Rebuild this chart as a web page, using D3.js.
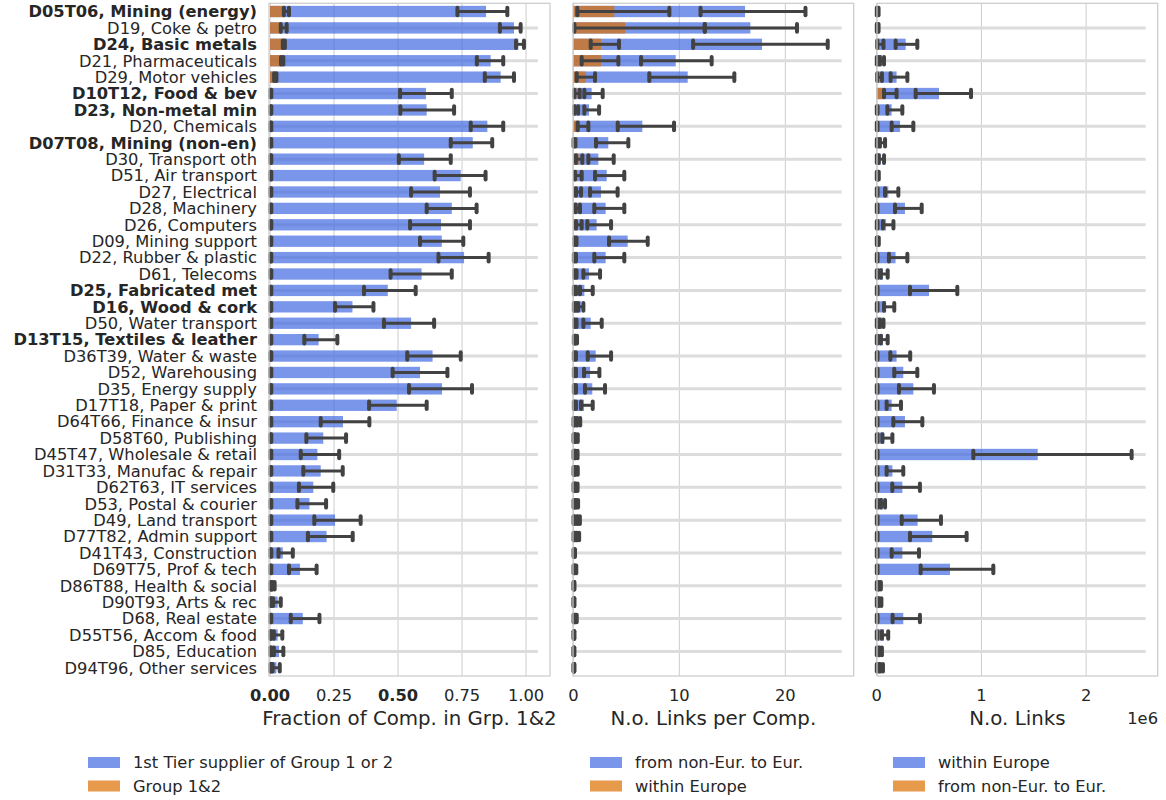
<!DOCTYPE html>
<html><head><meta charset="utf-8">
<script src="https://cdn.jsdelivr.net/npm/d3@7"></script>
<style>body{margin:0;background:#fff}svg{font-family:"DejaVu Sans",sans-serif}</style>
</head><body>
<svg id="c" width="1166" height="800"></svg>
<script>
const labels = ["D05T06, Mining (energy)","D19, Coke & petro","D24, Basic metals","D21, Pharmaceuticals","D29, Motor vehicles","D10T12, Food & bev","D23, Non-metal min","D20, Chemicals","D07T08, Mining (non-en)","D30, Transport oth","D51, Air transport","D27, Electrical","D28, Machinery","D26, Computers","D09, Mining support","D22, Rubber & plastic","D61, Telecoms","D25, Fabricated met","D16, Wood & cork","D50, Water transport","D13T15, Textiles & leather","D36T39, Water & waste","D52, Warehousing","D35, Energy supply","D17T18, Paper & print","D64T66, Finance & insur","D58T60, Publishing","D45T47, Wholesale & retail","D31T33, Manufac & repair","D62T63, IT services","D53, Postal & courier","D49, Land transport","D77T82, Admin support","D41T43, Construction","D69T75, Prof & tech","D86T88, Health & social","D90T93, Arts & rec","D68, Real estate","D55T56, Accom & food","D85, Education","D94T96, Other services"];
const boldLabels = ["D05T06, Mining (energy)","D24, Basic metals","D10T12, Food & bev","D23, Non-metal min","D07T08, Mining (non-en)","D25, Fabricated met","D16, Wood & cork","D13T15, Textiles & leather"];

// Panel 1: fraction of companies
const fracTier = [0.844,0.953,0.970,0.862,0.901,0.609,0.612,0.849,0.792,0.602,0.745,0.664,0.710,0.668,0.671,0.758,0.592,0.460,0.322,0.551,0.190,0.635,0.586,0.672,0.495,0.285,0.208,0.185,0.198,0.169,0.154,0.254,0.221,0.050,0.117,0.014,0.030,0.128,0.030,0.035,0.025];
const fracTierLo = [0.732,0.898,0.961,0.808,0.839,0.508,0.509,0.784,0.706,0.503,0.643,0.551,0.612,0.547,0.586,0.658,0.471,0.367,0.254,0.445,0.134,0.536,0.479,0.543,0.387,0.198,0.142,0.120,0.130,0.113,0.107,0.173,0.148,0.033,0.074,0.008,0.012,0.081,0.015,0.015,0.010];
const fracTierHi = [0.927,0.979,0.992,0.911,0.953,0.710,0.719,0.911,0.868,0.706,0.842,0.781,0.807,0.781,0.755,0.854,0.710,0.569,0.404,0.641,0.263,0.745,0.693,0.789,0.612,0.388,0.297,0.270,0.284,0.247,0.219,0.354,0.323,0.089,0.182,0.018,0.042,0.193,0.048,0.052,0.038];
const fracGrp = [0.060,0.045,0.050,0.045,0.018,0.003,0.003,0.003,0.003,0.003,0.003,0.003,0.003,0.003,0.003,0.003,0.003,0.003,0.003,0.003,0.003,0.003,0.003,0.003,0.003,0.003,0.003,0.003,0.003,0.003,0.003,0.003,0.003,0.003,0.003,0.003,0.003,0.003,0.003,0.003,0.003];
const fracGrpLo = [0.054,0.042,0.050,0.043,0.016,0.001,0.001,0.001,0.001,0.001,0.001,0.001,0.001,0.001,0.001,0.001,0.001,0.001,0.001,0.001,0.001,0.001,0.001,0.001,0.001,0.001,0.001,0.001,0.001,0.001,0.001,0.001,0.001,0.001,0.001,0.001,0.001,0.001,0.001,0.001,0.001];
const fracGrpHi = [0.074,0.065,0.058,0.052,0.025,0.005,0.005,0.005,0.005,0.005,0.005,0.005,0.005,0.005,0.005,0.005,0.005,0.005,0.005,0.005,0.005,0.005,0.005,0.005,0.005,0.005,0.005,0.005,0.005,0.005,0.005,0.005,0.005,0.005,0.005,0.005,0.005,0.005,0.005,0.005,0.005];

// Panel 2: links per company
const lpcNonEur = [16.2,16.7,17.8,9.66,10.79,1.73,1.48,6.51,3.3,2.36,3.15,2.61,3.05,2.20,5.13,3.05,1.48,1.04,0.75,1.64,0.3,2.11,1.58,1.79,1.01,0.5,0.3,0.28,0.3,0.3,0.35,0.5,0.45,0.12,0.22,0.06,0.06,0.25,0.06,0.05,0.06];
const lpcNonEurLo = [12.0,12.4,11.3,6.39,7.17,1.04,1.04,4.19,2.14,1.42,2.05,1.58,1.98,1.32,3.37,1.98,0.95,0.63,0.45,0.95,0.2,1.36,1.01,1.1,0.73,0.35,0.2,0.2,0.2,0.22,0.25,0.38,0.32,0.08,0.15,0.04,0.04,0.18,0.04,0.03,0.04];
const lpcNonEurHi = [21.9,21.1,24.0,13.05,15.19,2.77,2.43,9.5,5.19,3.81,4.81,4.18,4.81,3.56,7.02,4.81,2.52,1.83,0.95,2.68,0.35,3.56,2.46,2.99,1.83,0.65,0.42,0.4,0.42,0.4,0.45,0.62,0.55,0.16,0.28,0.08,0.08,0.32,0.08,0.07,0.08];
const lpcEur = [3.87,4.88,2.61,2.61,1.17,0.3,0.25,0.63,0.1,0.5,0.35,0.4,0.35,0.45,0.2,0.15,0.2,0.15,0.15,0.2,0.1,0.15,0.15,0.15,0.15,0.05,0.05,0.05,0.05,0.05,0.05,0.05,0.05,0.05,0.05,0.05,0.05,0.05,0.05,0.05,0.05];
const lpcEurLo = [0.38,0.1,1.64,0.79,0.32,0.1,0.1,0.41,0.02,0.25,0.16,0.25,0.22,0.25,0.1,0.05,0.1,0.05,0.05,0.1,0.05,0.05,0.05,0.05,0.05,0.02,0.02,0.02,0.02,0.02,0.02,0.02,0.02,0.02,0.02,0.02,0.02,0.02,0.02,0.02,0.02];
const lpcEurHi = [9.06,12.4,4.31,4.25,2.05,0.6,0.45,1.42,0.2,0.85,0.79,0.73,0.63,0.79,0.3,0.25,0.3,0.25,0.25,0.3,0.2,0.25,0.25,0.25,0.25,0.1,0.1,0.1,0.1,0.1,0.1,0.1,0.1,0.1,0.1,0.1,0.1,0.1,0.1,0.1,0.1];

// Panel 3: number of links
const linksEur = [0.012e6,0.012e6,0.277e6,0.05e6,0.19e6,0.595e6,0.143e6,0.223e6,0.05e6,0.04e6,0.015e6,0.111e6,0.27e6,0.09e6,0.015e6,0.18e6,0.06e6,0.5e6,0.09e6,0.05e6,0.06e6,0.19e6,0.254e6,0.35e6,0.143e6,0.27e6,0.073e6,1.538e6,0.15e6,0.245e6,0.06e6,0.391e6,0.531e6,0.245e6,0.7e6,0.03e6,0.035e6,0.254e6,0.07e6,0.04e6,0.05e6];
const linksEurLo = [0.006e6,0.006e6,0.181e6,0.03e6,0.133e6,0.372e6,0.102e6,0.143e6,0.03e6,0.02e6,0.008e6,0.08e6,0.175e6,0.06e6,0.008e6,0.117e6,0.04e6,0.318e6,0.07e6,0.03e6,0.04e6,0.13e6,0.168e6,0.213e6,0.095e6,0.159e6,0.054e6,0.923e6,0.095e6,0.149e6,0.04e6,0.239e6,0.318e6,0.143e6,0.42e6,0.02e6,0.02e6,0.152e6,0.05e6,0.025e6,0.03e6];
const linksEurHi = [0.018e6,0.018e6,0.388e6,0.07e6,0.293e6,0.901e6,0.245e6,0.35e6,0.08e6,0.07e6,0.02e6,0.207e6,0.43e6,0.16e6,0.02e6,0.293e6,0.105e6,0.77e6,0.168e6,0.065e6,0.105e6,0.32e6,0.388e6,0.547e6,0.232e6,0.436e6,0.15e6,2.435e6,0.254e6,0.413e6,0.08e6,0.614e6,0.859e6,0.404e6,1.114e6,0.04e6,0.045e6,0.413e6,0.11e6,0.05e6,0.06e6];
const linksNonEur = [0.002e6,0.002e6,0.03e6,0.004e6,0.02e6,0.06e6,0.004e6,0.004e6,0.004e6,0.004e6,0.004e6,0.004e6,0.004e6,0.004e6,0.002e6,0.004e6,0.004e6,0.004e6,0.004e6,0.004e6,0.004e6,0.004e6,0.004e6,0.004e6,0.004e6,0.004e6,0.004e6,0.004e6,0.004e6,0.004e6,0.004e6,0.004e6,0.004e6,0.004e6,0.004e6,0.004e6,0.004e6,0.004e6,0.004e6,0.004e6,0.004e6];
const linksNonEurLo = [0.001e6,0.001e6,0.005e6,0.001e6,0.005e6,0.07e6,0.001e6,0.001e6,0.001e6,0.001e6,0.001e6,0.001e6,0.001e6,0.001e6,0.001e6,0.001e6,0.001e6,0.001e6,0.001e6,0.001e6,0.001e6,0.001e6,0.001e6,0.001e6,0.001e6,0.001e6,0.001e6,0.001e6,0.001e6,0.001e6,0.001e6,0.001e6,0.001e6,0.001e6,0.001e6,0.001e6,0.001e6,0.001e6,0.001e6,0.001e6,0.001e6];
const linksNonEurHi = [0.004e6,0.004e6,0.065e6,0.008e6,0.05e6,0.19e6,0.008e6,0.008e6,0.008e6,0.008e6,0.008e6,0.008e6,0.008e6,0.008e6,0.004e6,0.008e6,0.008e6,0.008e6,0.008e6,0.008e6,0.008e6,0.008e6,0.008e6,0.008e6,0.008e6,0.008e6,0.008e6,0.008e6,0.008e6,0.008e6,0.008e6,0.008e6,0.008e6,0.008e6,0.008e6,0.008e6,0.008e6,0.008e6,0.008e6,0.008e6,0.008e6];

const ticksFrac = [0, 0.25, 0.5, 0.75, 1.0];
const boldTicksFrac = [0, 0.5];
const ticksLpc = [0, 10, 20];
const ticksLinks = [0, 1e6, 2e6];

const BLUE = "#4169e1", ORANGE = "#dd6d00", ERR = "#424242", TXT = "#262626";
const FS = 16.3, FT = 19.8;
const svg = d3.select("#c");
const plotTop = 3.3, plotBottom = 676;
const y = d3.scaleBand().domain(labels).range([plotTop, plotBottom]).paddingInner(0.31).paddingOuter(0.155);

const panels = [
  {x0:269, x1:550, dom:[-0.004, 1.0937], ticks:ticksFrac, fmt:d=>d3.format(".2f")(d), bold:boldTicksFrac,
   title:"Fraction of Comp. in Grp. 1&2",
   blue:[fracTier,fracTierLo,fracTierHi], orange:[fracGrp,fracGrpLo,fracGrpHi],
   legend:["1st Tier supplier of Group 1 or 2","Group 1&2"], lx:88},
  {x0:573, x1:853.7, dom:[-0.03, 26.45], ticks:ticksLpc, fmt:d=>String(d), bold:[],
   title:"N.o. Links per Comp.",
   blue:[lpcNonEur,lpcNonEurLo,lpcNonEurHi], orange:[lpcEur,lpcEurLo,lpcEurHi],
   legend:["from non-Eur. to Eur.","within Europe"], lx:590},
  {x0:877, x1:1157.7, dom:[0.003e6, 2.684e6], ticks:ticksLinks, fmt:d=>String(d/1e6), bold:[],
   title:"N.o. Links",
   blue:[linksEur,linksEurLo,linksEurHi], orange:[linksNonEur,linksNonEurLo,linksNonEurHi],
   legend:["within Europe","from non-Eur. to Eur."], lx:893}
];

panels.forEach((p, pi) => {
  const x = d3.scaleLinear().domain(p.dom).range([p.x0, p.x1]);
  const g = svg.append("g");
  g.selectAll("line.grid").data(p.ticks).join("line")
    .attr("x1", d=>x(d)).attr("x2", d=>x(d)).attr("y1", plotTop).attr("y2", plotBottom)
    .attr("stroke", "#cccccc").attr("stroke-width", 1);
  const lineEnd = p.x0 + 0.957*(p.x1 - p.x0);
  g.selectAll("line.stripe").data(labels.filter((d,i)=>i%2===1)).join("line")
    .attr("x1", p.x0).attr("x2", lineEnd)
    .attr("y1", d=>y(d)+y.bandwidth()/2).attr("y2", d=>y(d)+y.bandwidth()/2)
    .attr("stroke", "#dcdcdc").attr("stroke-width", 3);
  const bw = y.bandwidth();
  g.selectAll("rect.b").data(labels).join("rect")
    .attr("x", x(0)).attr("y", d=>y(d))
    .attr("width", (d,i)=>Math.max(0, x(p.blue[0][i]) - x(0))).attr("height", bw)
    .attr("fill", BLUE).attr("fill-opacity", 0.7);
  g.selectAll("rect.o").data(labels).join("rect")
    .attr("x", x(0)).attr("y", d=>y(d))
    .attr("width", (d,i)=>Math.max(0, x(p.orange[0][i]) - x(0))).attr("height", bw)
    .attr("fill", ORANGE).attr("fill-opacity", 0.7);
  [p.blue, p.orange].forEach(s => {
    labels.forEach((d, i) => {
      const cy = y(d) + bw/2, lo = x(s[1][i]), hi = x(s[2][i]);
      g.append("line").attr("x1", lo).attr("x2", hi).attr("y1", cy).attr("y2", cy)
        .attr("stroke", ERR).attr("stroke-width", 3);
      [lo, hi].forEach(cx => g.append("line").attr("x1", cx).attr("x2", cx)
        .attr("y1", cy-3.8).attr("y2", cy+3.8)
        .attr("stroke", ERR).attr("stroke-width", 4).attr("stroke-linecap", "round"));
    });
  });
  g.append("rect").attr("x", p.x0).attr("y", plotTop).attr("width", p.x1-p.x0).attr("height", plotBottom-plotTop)
    .attr("fill", "none").attr("stroke", "#cccccc").attr("stroke-width", 1.25);
  g.selectAll("text.t").data(p.ticks).join("text")
    .attr("x", d=>x(d)).attr("y", 701).attr("text-anchor", "middle")
    .attr("font-size", FS).attr("fill", TXT)
    .attr("font-weight", d=>p.bold.includes(d) ? "bold" : "normal")
    .text(d=>p.fmt(d));
  g.append("text").attr("x", (p.x0+p.x1)/2).attr("y", 724.5).attr("text-anchor", "middle")
    .attr("font-size", FT).attr("fill", TXT).text(p.title);
  const cols = [BLUE, ORANGE];
  p.legend.forEach((t, k) => {
    const ly = 762.5 + k*23.5;
    g.append("rect").attr("x", p.lx).attr("y", ly-5.5).attr("width", 32).attr("height", 11)
      .attr("fill", cols[k]).attr("fill-opacity", 0.7);
    g.append("text").attr("x", p.lx+45).attr("y", ly+5.8).attr("font-size", FS)
      .attr("fill", TXT).text(t);
  });
  if (pi === 2) {
    g.append("text").attr("x", 1158).attr("y", 724).attr("text-anchor", "end")
      .attr("font-size", FS).attr("fill", TXT).text("1e6");
  }
});

svg.append("g").selectAll("text").data(labels).join("text")
  .attr("x", 257).attr("y", d=>y(d)+y.bandwidth()/2+5.8).attr("text-anchor", "end")
  .attr("font-size", FS).attr("fill", TXT)
  .attr("font-weight", d=>boldLabels.includes(d) ? "bold" : "normal")
  .text(d=>d);
</script>
</body></html>
